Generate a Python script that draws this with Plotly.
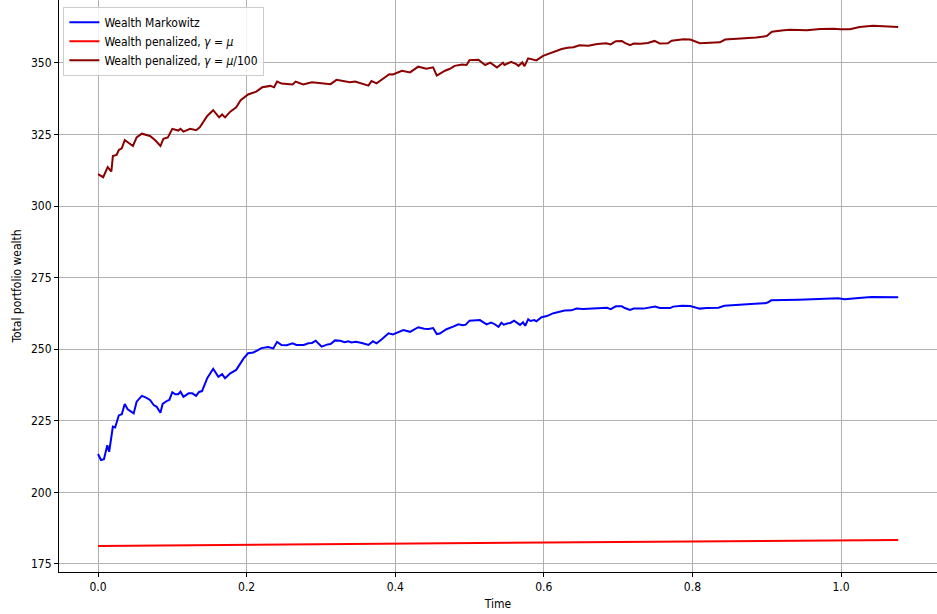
import plotly.graph_objects as go

# Markowitz portfolio wealth over time
t_markowitz = [0.000, 0.004, 0.008, 0.0125, 0.015, 0.020, 0.023, 0.028, 0.032, 0.036, 0.040, 0.048,
               0.052, 0.059, 0.064, 0.070, 0.075, 0.079, 0.084, 0.087, 0.093, 0.096, 0.100, 0.104,
               0.108, 0.111, 0.115, 0.122, 0.127, 0.132, 0.136, 0.140, 0.147, 0.150, 0.155, 0.162,
               0.167, 0.171, 0.178, 0.186, 0.192, 0.196, 0.202, 0.209, 0.214, 0.220, 0.229, 0.236,
               0.241, 0.247, 0.254, 0.262, 0.267, 0.277, 0.283, 0.288, 0.293, 0.301, 0.309, 0.313,
               0.319, 0.326, 0.332, 0.337, 0.341, 0.347, 0.355, 0.364, 0.370, 0.375, 0.382, 0.391,
               0.397, 0.402, 0.411, 0.420, 0.431, 0.439, 0.445, 0.451, 0.456, 0.460, 0.469, 0.478,
               0.485, 0.491, 0.495, 0.500, 0.507, 0.514, 0.523, 0.529, 0.533, 0.539, 0.543, 0.546,
               0.552, 0.555, 0.560, 0.564, 0.568, 0.572, 0.575, 0.579, 0.582, 0.587, 0.590, 0.597,
               0.604, 0.613, 0.619, 0.628, 0.637, 0.644, 0.653, 0.667, 0.676, 0.685, 0.690, 0.697,
               0.705, 0.709, 0.716, 0.721, 0.734, 0.743, 0.750, 0.756, 0.770, 0.774, 0.786, 0.797,
               0.803, 0.810, 0.819, 0.835, 0.843, 0.857, 0.871, 0.884, 0.898, 0.902, 0.906, 0.916,
               0.925, 0.943, 0.961, 0.978, 0.996, 1.005, 1.014, 1.028, 1.041, 1.055, 1.077]
w_markowitz = [213.4, 211.3, 211.6, 216.5, 214.2, 223.0, 222.7, 226.9, 227.3, 230.9, 229.0, 227.6,
               231.7, 233.7, 233.2, 232.3, 230.5, 229.9, 227.8, 230.9, 232.0, 232.3, 235.0, 234.3,
               234.3, 235.2, 233.4, 234.6, 234.6, 233.7, 235.1, 235.4, 239.9, 241.0, 243.2, 240.4,
               241.3, 239.9, 241.6, 242.8, 245.5, 246.8, 248.6, 248.9, 249.5, 250.4, 250.8, 250.3,
               252.6, 251.5, 251.4, 252.1, 251.5, 251.5, 252.1, 252.2, 253.0, 250.9, 251.7, 251.8,
               253.1, 253.0, 252.5, 252.8, 252.4, 252.6, 252.2, 251.5, 252.8, 252.1, 253.5, 255.6,
               255.2, 255.8, 256.7, 256.1, 257.7, 257.2, 257.1, 257.4, 255.3, 255.5, 257.0, 257.9,
               258.7, 258.4, 258.6, 260.0, 260.0, 260.2, 258.7, 259.3, 258.9, 257.8, 259.3, 258.6,
               259.1, 259.2, 260.0, 259.1, 258.5, 259.4, 258.2, 260.5, 259.9, 260.2, 259.8, 261.2,
               261.6, 262.6, 262.9, 263.5, 263.6, 264.2, 264.1, 264.2, 264.4, 264.5, 264.0, 265.0,
               265.0, 264.4, 263.7, 264.2, 264.2, 264.5, 264.9, 264.4, 264.4, 264.9, 265.2, 265.1,
               264.7, 264.2, 264.4, 264.5, 265.2, 265.5, 265.7, 265.9, 266.1, 266.4, 267.1, 267.1,
               267.3, 267.3, 267.5, 267.7, 267.8, 267.5, 267.6, 268.0, 268.3, 268.2, 268.2]

# Penalized portfolio, gamma = mu
t_pen_mu = [0.000, 0.050, 0.100, 0.150, 0.200, 0.250, 0.300, 0.350, 0.400, 0.450, 0.500, 0.550,
            0.600, 0.650, 0.700, 0.750, 0.800, 0.850, 0.900, 0.950, 1.000, 1.040, 1.077]
w_pen_mu = [181.3, 181.4, 181.5, 181.6, 181.8, 181.9, 182.0, 182.0, 182.2, 182.2, 182.3, 182.4,
            182.5, 182.7, 182.8, 182.8, 182.9, 182.9, 183.1, 183.2, 183.3, 183.4, 183.4]

# Penalized portfolio, gamma = mu / 100
t_pen_mu100 = [0.000, 0.007, 0.013, 0.018, 0.020, 0.025, 0.028, 0.032, 0.036, 0.047, 0.052, 0.059,
               0.070, 0.077, 0.084, 0.088, 0.094, 0.100, 0.108, 0.111, 0.115, 0.124, 0.132, 0.137,
               0.147, 0.155, 0.163, 0.167, 0.171, 0.178, 0.186, 0.192, 0.202, 0.213, 0.221, 0.232,
               0.237, 0.241, 0.247, 0.262, 0.266, 0.276, 0.288, 0.296, 0.313, 0.321, 0.332, 0.339,
               0.346, 0.355, 0.364, 0.368, 0.375, 0.384, 0.392, 0.397, 0.409, 0.420, 0.431, 0.442,
               0.451, 0.456, 0.467, 0.473, 0.480, 0.490, 0.496, 0.500, 0.512, 0.521, 0.528, 0.537,
               0.545, 0.547, 0.556, 0.563, 0.566, 0.571, 0.574, 0.579, 0.586, 0.590, 0.599, 0.608,
               0.617, 0.624, 0.632, 0.640, 0.648, 0.660, 0.672, 0.684, 0.690, 0.697, 0.705, 0.709,
               0.716, 0.721, 0.730, 0.740, 0.749, 0.756, 0.767,
               0.772, 0.788, 0.797, 0.810, 0.824, 0.837, 0.844, 0.856, 0.877, 0.886, 0.900, 0.907,
               0.923, 0.932, 0.954, 0.972, 0.990, 0.999, 1.012, 1.025, 1.043, 1.061, 1.077]
w_pen_mu100 = [311.2, 310.1, 313.6, 312.1, 317.5, 317.9, 319.6, 320.2, 323.1, 321.0, 324.0, 325.3,
               324.5, 323.0, 321.0, 323.5, 324.0, 327.0, 326.4, 327.0, 326.0, 327.0, 326.5, 327.5,
               331.5, 333.5, 331.0, 332.0, 331.0, 333.0, 334.5, 337.0, 339.0, 340.0, 341.5, 342.0,
               341.5, 343.5, 342.8, 342.5, 343.5, 342.5, 343.3, 343.0, 342.6, 344.1, 343.5, 343.3,
               343.5, 342.9, 342.1, 343.7, 342.9, 344.6, 346.1, 346.0, 347.3, 346.7, 348.7, 348.0,
               348.5, 345.6, 347.3, 347.9, 349.0, 349.5, 349.3, 351.0, 351.1, 349.3, 350.1, 348.4,
               350.1, 349.3, 350.4, 349.6, 349.0, 350.2, 348.9, 351.6, 351.3, 350.9, 352.5, 353.4,
               354.3, 354.9, 355.3, 355.5, 356.2, 356.0, 356.6, 356.9, 356.5, 357.6, 357.7, 357.0,
               356.2, 356.8, 356.7, 357.0, 357.7, 356.8, 356.9,
               357.8, 358.3, 358.2, 356.9, 357.1, 357.2, 358.2, 358.4, 358.9, 358.9, 359.4,
               360.9, 361.4, 361.6, 361.4, 361.9, 362.0, 361.8, 361.8, 362.6, 363.0, 362.8, 362.6]

series = [
    ("Wealth Markowitz", t_markowitz, w_markowitz, "#0000ff"),
    ("Wealth penalized, <i>γ</i> = <i>μ</i>", t_pen_mu, w_pen_mu, "#ff0000"),
    ("Wealth penalized, <i>γ</i> = <i>μ</i>/100", t_pen_mu100, w_pen_mu100, "#8b0000"),
]

x_ticks = [0.0, 0.2, 0.4, 0.6, 0.8, 1.0]
y_ticks = [175, 200, 225, 250, 275, 300, 325, 350]

fig = go.Figure()
for name, t, w, color in series:
    fig.add_trace(go.Scatter(x=t, y=w, mode="lines", name=name,
                             line=dict(color=color, width=2)))

axis_font = dict(family="DejaVu Sans Condensed, DejaVu Sans", size=12, color="black")

fig.update_layout(
    width=937, height=614,
    margin=dict(l=59, r=0, t=0, b=42),
    paper_bgcolor="white", plot_bgcolor="white",
    font=axis_font,
    showlegend=True,
    legend=dict(x=0.005, y=0.988, xanchor="left", yanchor="top",
                bgcolor="rgba(255,255,255,0.85)", bordercolor="#cccccc", borderwidth=1,
                font=dict(family="DejaVu Sans Condensed, DejaVu Sans", size=12, color="black"),
                itemwidth=30, tracegroupgap=0),
)
fig.update_xaxes(
    range=[-0.0525, 1.1292], tickvals=x_ticks, ticktext=[f"{v:.1f}" for v in x_ticks],
    showgrid=True, gridcolor="#b0b0b0", gridwidth=1, zeroline=False,
    showline=True, linecolor="black", linewidth=1, mirror=True,
    ticks="outside", ticklen=4, tickcolor="black",
    title=dict(text="Time", font=axis_font, standoff=6),
)
fig.update_yaxes(
    range=[172.2, 372.0], tickvals=y_ticks,
    showgrid=True, gridcolor="#b0b0b0", gridwidth=1, zeroline=False,
    showline=True, linecolor="black", linewidth=1,
    ticks="outside", ticklen=4, tickcolor="black",
    title=dict(text="Total portfolio wealth", font=axis_font, standoff=6),
)

fig.write_html("out.html")
